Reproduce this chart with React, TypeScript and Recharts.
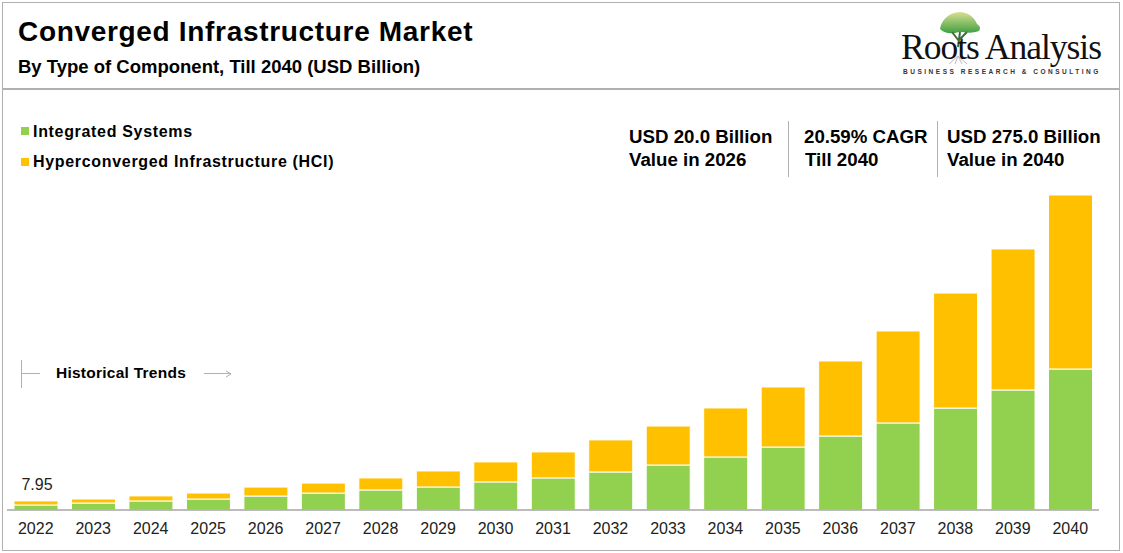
import { BarChart, Bar, XAxis, YAxis, LabelList } from "recharts";

const years = ["2022", "2023", "2024", "2025", "2026", "2027", "2028", "2029", "2030", "2031", "2032", "2033", "2034", "2035", "2036", "2037", "2038", "2039", "2040"];
const integrated = [4.4, 6.1, 7.9, 9.6, 12.2, 14.8, 17.5, 20.1, 24.5, 28, 33.2, 39.3, 46.3, 55, 64.6, 76, 89, 104.8, 123.1];
const hci = [3.55, 3.5, 4.4, 5.2, 7.8, 8.7, 10.5, 14, 17.5, 22.7, 28, 34, 42.8, 52.4, 65.5, 80.3, 100.4, 123.1, 151.9];

const data = years.map((year, i) => ({ year, integrated: integrated[i], hci: hci[i] }));

const GREEN = "#92D050";
const AMBER = "#FFC000";
const RULE = "#b0b0b0";
const FONT = "'Liberation Sans', Arial, sans-serif";

const text = (left: number, top: number, size: number, extra = {}) => ({
  position: "absolute" as const,
  left,
  top,
  fontSize: size,
  lineHeight: `${size + 2}px`,
  fontWeight: 700,
  color: "#000",
  whiteSpace: "nowrap" as const,
  ...extra,
});

const line = (left: number, top: number, width: number, height: number, color = RULE) => (
  <div style={{ position: "absolute", left, top, width, height, background: color }} />
);

function FirstTotal({ x, y, width, index }: any) {
  if (index !== 0) return null;
  return (
    <text x={x + width / 2 + 1} y={y - 11} textAnchor="middle" fontSize={16} fill="#222" fontFamily={FONT}>
      7.95
    </text>
  );
}

export default function App() {
  return (
    <div style={{ position: "absolute", left: 0, top: 0, width: 1123, height: 553, background: "#fff", fontFamily: FONT, overflow: "hidden" }}>
      <BarChart
        width={1123}
        height={553}
        data={data}
        margin={{ top: 195, right: 24, bottom: 0, left: 7 }}
        barSize={44}
        style={{ position: "absolute", left: 0, top: 0 }}
      >
        <YAxis hide domain={[0, 275]} />
        <XAxis
          dataKey="year"
          height={43}
          axisLine={{ stroke: "#a6a6a6", strokeWidth: 1.5 }}
          tickLine={false}
          interval={0}
          tick={{ fill: "#222", fontSize: 16, fontFamily: FONT }}
          tickMargin={7}
        />
        <Bar dataKey="integrated" stackId="a" fill={GREEN} stroke="#fff" strokeWidth={1} isAnimationActive={false} />
        <Bar dataKey="hci" stackId="a" fill={AMBER} stroke="#fff" strokeWidth={1} isAnimationActive={false}>
          <LabelList dataKey="hci" content={FirstTotal} />
        </Bar>
      </BarChart>

      {/* frame */}
      <div style={{ position: "absolute", left: 2, top: 2, width: 1116, height: 547, border: `1.5px solid ${RULE}` }} />
      {line(3, 88, 1116, 1.5)}

      <div style={text(18, 17, 28, { letterSpacing: 0.68 })}>Converged Infrastructure Market</div>
      <div style={text(18, 57, 18.5)}>By Type of Component, Till 2040 (USD Billion)</div>

      {/* logo */}
      <svg width={70} height={75} style={{ position: "absolute", left: 925, top: 5 }}>
        <defs>
          <linearGradient id="crown" x1="0" y1="0" x2="0" y2="1">
            <stop offset="0" stopColor="#d9df92" />
            <stop offset="1" stopColor="#3f9f42" />
          </linearGradient>
        </defs>
        <path d="M15 24 C16 17 22 8 34 7 C45 7 50 14 52 19 C55 21 56 23 54 26 C46 29 40 27 34 27 C27 29 20 29 15 24 Z" fill="url(#crown)" />
        <path d="M33 42 L35 27 M34 36 L27 27 M34 35 L42 27" stroke="#3d6e38" strokeWidth={2} fill="none" />
        <path d="M24 59 L33 51 L42 59 M33 51 L30 59 M33 51 L37 59" stroke="#bdbdbd" fill="none" />
      </svg>
      <div style={{ position: "absolute", left: 901, top: 26, fontFamily: "'Liberation Serif', serif", fontSize: 35.5, lineHeight: "42px", color: "#111", whiteSpace: "nowrap", letterSpacing: -1 }}>
        Roots Analysis
      </div>
      <div style={{ position: "absolute", left: 903, top: 68, fontSize: 6.5, lineHeight: "8px", fontWeight: 700, letterSpacing: 2.52, color: "#333", whiteSpace: "nowrap" }}>
        BUSINESS RESEARCH &amp; CONSULTING
      </div>

      {/* legend */}
      <div style={{ position: "absolute", left: 21, top: 127, width: 8, height: 8, background: GREEN }} />
      <div style={text(33, 123, 16, { letterSpacing: 0.68 })}>Integrated Systems</div>
      <div style={{ position: "absolute", left: 21, top: 158, width: 8, height: 8, background: AMBER }} />
      <div style={text(33, 153, 16, { letterSpacing: 0.68 })}>Hyperconverged Infrastructure (HCI)</div>

      {/* callouts */}
      <div style={text(629, 127, 18.7)}>USD 20.0 Billion</div>
      <div style={text(629, 150, 18.7)}>Value in 2026</div>
      {line(788, 121, 1, 56)}
      <div style={text(804, 127, 18.7)}>20.59% CAGR</div>
      <div style={text(805, 150, 18.7)}>Till 2040</div>
      {line(937, 121, 1, 56)}
      <div style={text(947, 127, 18.7)}>USD 275.0 Billion</div>
      <div style={text(947, 150, 18.7)}>Value in 2040</div>

      {/* historical trends marker */}
      {line(21, 360, 1, 28)}
      {line(22, 373, 18, 1)}
      <div style={text(56, 364, 15.5, { letterSpacing: 0.25 })}>Historical Trends</div>
      {line(204, 373, 27, 1)}
      <svg width={8} height={8} style={{ position: "absolute", left: 225, top: 369.5 }}>
        <path d="M1 1 L6 4 L1 7" fill="none" stroke={RULE} />
      </svg>
    </div>
  );
}
